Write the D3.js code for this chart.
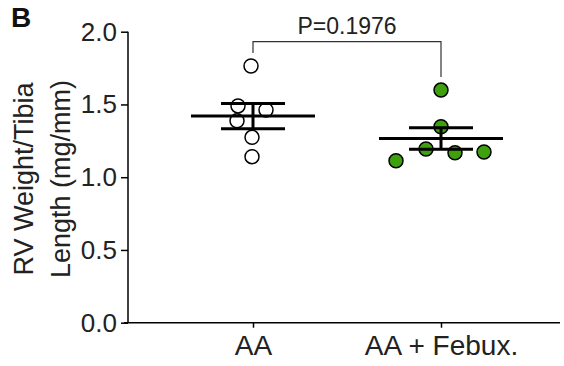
<!DOCTYPE html>
<html>
<head>
<meta charset="utf-8">
<script src="https://cdn.jsdelivr.net/npm/d3@7"></script>
<style>
  html, body { margin: 0; padding: 0; background: #fff; }
  svg { display: block; font-family: "Liberation Sans", Arial, Helvetica, sans-serif; }
</style>
</head>
<body>
<svg id="chart" width="564" height="366"></svg>
<script>
// Groups and per-animal RV weight / tibia length values (mg/mm)
const groups = ["AA", "AA + Febux."];
const valuesAA = [1.764, 1.490, 1.462, 1.388, 1.274, 1.141];
const valuesFebux = [1.599, 1.347, 1.194, 1.168, 1.173, 1.113];
const yTicks = [0.0, 0.5, 1.0, 1.5, 2.0];
const pLabel = "P=0.1976";
const panelLetter = "B";
const yTitleLines = ["RV Weight/Tibia", "Length (mg/mm)"];

// Horizontal scatter offsets (px) so overlapping dots stay visible
const spreadAA = [-2, -15, 13, -16, -1, -1];
const spreadFebux = [0, 0, -15, 14, 43, -45];

const fills = ["#ffffff", "#3fa00e"];

const svg = d3.select("#chart");

const y = d3.scaleLinear().domain([0, 2]).range([322.7, 31.7]);
const x = d3.scalePoint().domain(groups).range([253, 441]);
const axisX = 128;

// Y axis
const yAxis = svg.append("g")
  .attr("transform", `translate(${axisX},0)`)
  .call(d3.axisLeft(y).tickValues(yTicks).tickFormat(d3.format(".1f")).tickSize(7).tickPadding(4));
yAxis.select(".domain").attr("d", `M0,${y(0)}V${y(2)}`);
yAxis.selectAll("line, path").attr("stroke", "#000").attr("stroke-width", 1.5);
yAxis.selectAll("text").attr("font-size", 26).attr("fill", "#222")
  .attr("font-family", "Liberation Sans, Arial, sans-serif");

// X axis
const xAxis = svg.append("g")
  .attr("transform", `translate(0,${y(0)})`)
  .call(d3.axisBottom(x).tickSize(5).tickPadding(7));
xAxis.select(".domain").attr("d", `M${axisX - 4},0H560`);
xAxis.selectAll("line, path").attr("stroke", "#000").attr("stroke-width", 1.5);
xAxis.selectAll("text").attr("font-size", 28).attr("fill", "#222")
  .attr("dy", "0.71em")
  .attr("font-family", "Liberation Sans, Arial, sans-serif");

// Y axis title (two lines)
const titleG = svg.append("g").attr("transform", "translate(0,179) rotate(-90)");
titleG.selectAll("text").data(yTitleLines).join("text")
  .attr("x", 0)
  .attr("y", (d, i) => 33 + i * 37)
  .attr("text-anchor", "middle")
  .attr("font-size", 27)
  .attr("fill", "#222")
  .text(d => d);

// Panel letter
svg.append("text").attr("x", 11).attr("y", 27)
  .attr("font-size", 28).attr("font-weight", "bold").attr("fill", "#111")
  .text(panelLetter);

const series = [
  { name: groups[0], values: valuesAA, spread: spreadAA, fill: fills[0] },
  { name: groups[1], values: valuesFebux, spread: spreadFebux, fill: fills[1] }
];

// Individual points
series.forEach(s => {
  svg.append("g").selectAll("circle").data(s.values).join("circle")
    .attr("cx", (d, i) => x(s.name) + s.spread[i])
    .attr("cy", d => y(d))
    .attr("r", 7)
    .attr("fill", s.fill)
    .attr("stroke", "#000")
    .attr("stroke-width", 1.5);
});

// Mean line with SEM error bars
series.forEach(s => {
  const m = d3.mean(s.values);
  const sem = d3.deviation(s.values) / Math.sqrt(s.values.length);
  const cx = x(s.name);
  const g = svg.append("g").attr("stroke", "#000").attr("stroke-width", 3);
  g.append("line").attr("x1", cx - 62).attr("x2", cx + 62).attr("y1", y(m)).attr("y2", y(m));
  g.append("line").attr("x1", cx).attr("x2", cx).attr("y1", y(m + sem)).attr("y2", y(m - sem));
  g.append("line").attr("x1", cx - 32).attr("x2", cx + 32).attr("y1", y(m + sem)).attr("y2", y(m + sem));
  g.append("line").attr("x1", cx - 32).attr("x2", cx + 32).attr("y1", y(m - sem)).attr("y2", y(m - sem));
});

// Significance bracket between the two groups
const topY = 41.7;
const legA = y(d3.max(valuesAA)) - 13;
const legB = y(d3.max(valuesFebux)) - 13;
svg.append("path")
  .attr("d", `M${x(groups[0])},${legA}V${topY}H${x(groups[1])}V${legB}`)
  .attr("fill", "none").attr("stroke", "#333").attr("stroke-width", 1.2);
svg.append("text")
  .attr("x", (x(groups[0]) + x(groups[1])) / 2)
  .attr("y", 34)
  .attr("text-anchor", "middle")
  .attr("font-size", 23)
  .attr("fill", "#222")
  .text(pLabel);
</script>
</body>
</html>
